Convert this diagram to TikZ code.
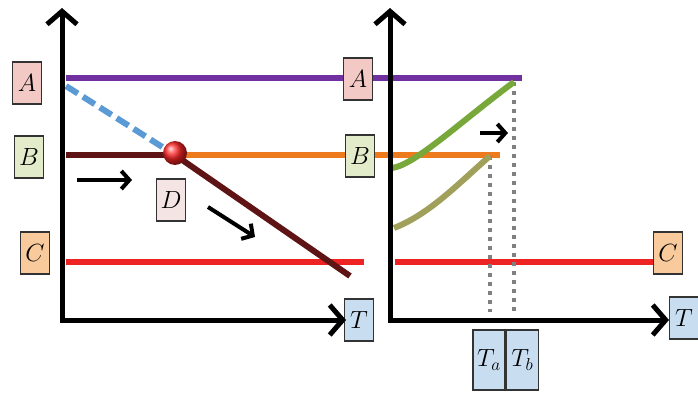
\documentclass[tikz,border=0pt]{standalone}
\usetikzlibrary{arrows.meta}
\definecolor{boxA}{HTML}{F3C9C6}
\definecolor{boxB}{HTML}{E2ECCB}
\definecolor{boxC}{HTML}{F9CB9C}
\definecolor{boxD}{HTML}{F4E4E4}
\definecolor{boxT}{HTML}{C9DDF0}
\definecolor{lnA}{HTML}{7030A0}
\definecolor{lnB}{HTML}{EE7A1E}
\definecolor{lnC}{HTML}{EE2424}
\definecolor{lnD}{HTML}{5E1414}
\definecolor{lnDash}{HTML}{5B9BD5}
\definecolor{lnG}{HTML}{78A83A}
\definecolor{lnO}{HTML}{A0A05A}
\tikzset{
  lbl/.style={draw=black!80, line width=1.3pt, inner sep=1pt, minimum width=29pt, minimum height=42pt, font=\fontsize{26}{28}\selectfont},
  axis/.style={line width=5pt, line join=miter, {Straight Barb[length=13pt,width=30pt]}-{Straight Barb[length=13pt,width=30pt]}},
  level/.style={line width=6pt},
  hint/.style={line width=4pt, -{Straight Barb[length=8pt,width=18pt]}},
  guide/.style={line width=4pt, gray, dash pattern=on 4pt off 5pt}
}
\begin{document}
\begin{tikzpicture}[x=1pt, y=-1pt]
\useasboundingbox (0,0) rectangle (698,395);
% left panel
\coordinate (o1) at (62,320);
\coordinate (y1) at (62,8);
\coordinate (x1) at (346,320);
\node[lbl, fill=boxA] (a1) at (27,83) {$A$};
\node[lbl, fill=boxB] (b1) at (29,157) {$B$};
\node[lbl, fill=boxC] (c1) at (35,253) {$C$};
\node[lbl, fill=boxA] (a2) at (358,79) {$A$};
\node[lbl, fill=boxB] (b2) at (360,156) {$B$};
\node[lbl, fill=boxT] (t1) at (359,320) {$T$};
\node[lbl, fill=boxD] (d) at (171,200) {$D$};
\coordinate (pa1) at (66,78);
\coordinate (pb1) at (66,155);
\coordinate (pc1) at (66,262);
\coordinate (pc1e) at (364,262);
\coordinate (ps) at (66,86);
\coordinate (pe) at (350,276);
\draw[level, lnA] (pa1) -- (a2.west |- pa1);
\draw[level, lnB] (175,155) -- (b2.west |- pb1);
\draw[level, lnD] (pb1) -- (175,155);
\draw[level, lnC] (pc1) -- (pc1e);
\draw[level, lnDash, dash pattern=on 14pt off 6pt] (ps) -- (175,155);
\draw[level, lnD] (175,155) -- (pe);
\node[circle, minimum size=24pt, inner sep=0pt, shading=ball, ball color=red!85] (ball) at (175,153) {};
\draw[hint] (77,180) -- (132,180);
\draw[hint] (208,207) -- (255,237);
\draw[axis] (y1) -- (o1) -- (x1);
% right panel
\coordinate (o2) at (390,320);
\coordinate (y2) at (390,8);
\coordinate (x2) at (669,320);
\node[lbl, fill=boxC] (c2) at (668,253) {$C$};
\node[lbl, fill=boxT] (t2) at (684,318) {$T$};
\node[lbl, fill=boxT, minimum width=32pt, minimum height=60pt] (ta) at (489,360) {$T_a$};
\node[lbl, fill=boxT, minimum width=32pt, minimum height=60pt, anchor=west] (tb) at (ta.east) {$T_b$};
\coordinate (pa2) at (522,78);
\coordinate (pb2) at (500,155);
\coordinate (pc2) at (395,262);
\coordinate (ga) at (490,156);
\coordinate (gb) at (514,82);
\draw[level, lnA] (a2.east |- pa2) -- (pa2);
\draw[level, lnB] (b2.east |- pb2) -- (pb2);
\draw[level, lnC] (pc2) -- (c2.west |- pc2);
\draw[guide] (ga) -- (ga |- 0,312);
\draw[guide] (gb) -- (gb |- 0,312);
\draw[level, lnO] (394,228) .. controls (430,214) and (460,182) .. (ga);
\draw[level, lnG] (392,168) .. controls (415,165) and (460,122) .. (gb);
\draw[hint] (480,133) -- (508,133);
\draw[axis] (y2) -- (o2) -- (x2);
\end{tikzpicture}
\end{document}
